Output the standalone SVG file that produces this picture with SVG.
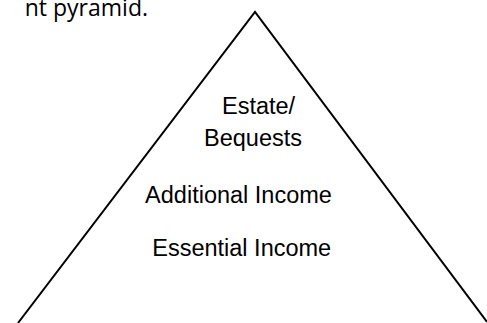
<svg xmlns="http://www.w3.org/2000/svg" width="487" height="323" viewBox="0 0 487 323">
<style>
.lbl{font-family:"Liberation Sans",Arial,sans-serif;font-size:23.5px;fill:#000}
.cap{font-family:"Open Sans","Liberation Sans",sans-serif;font-size:23px;fill:#000}
.edge{fill:none;stroke:#000;stroke-width:2}
</style>
<rect width="487" height="323" fill="#fff"/>
<text class="cap" x="148" y="16" text-anchor="end">nt pyramid.</text>
<g id="connectors">
<polyline class="edge" points="18,323 255,12 487,322"/>
</g>
<g id="estate">
<text class="lbl" x="222" y="114">Estate/</text>
<text class="lbl" x="204" y="146">Bequests</text>
</g>
<g id="additional">
<text class="lbl" x="238.5" y="202.5" text-anchor="middle">Additional Income</text>
</g>
<g id="essential">
<text class="lbl" x="241.7" y="256" text-anchor="middle">Essential Income</text>
</g>
</svg>
